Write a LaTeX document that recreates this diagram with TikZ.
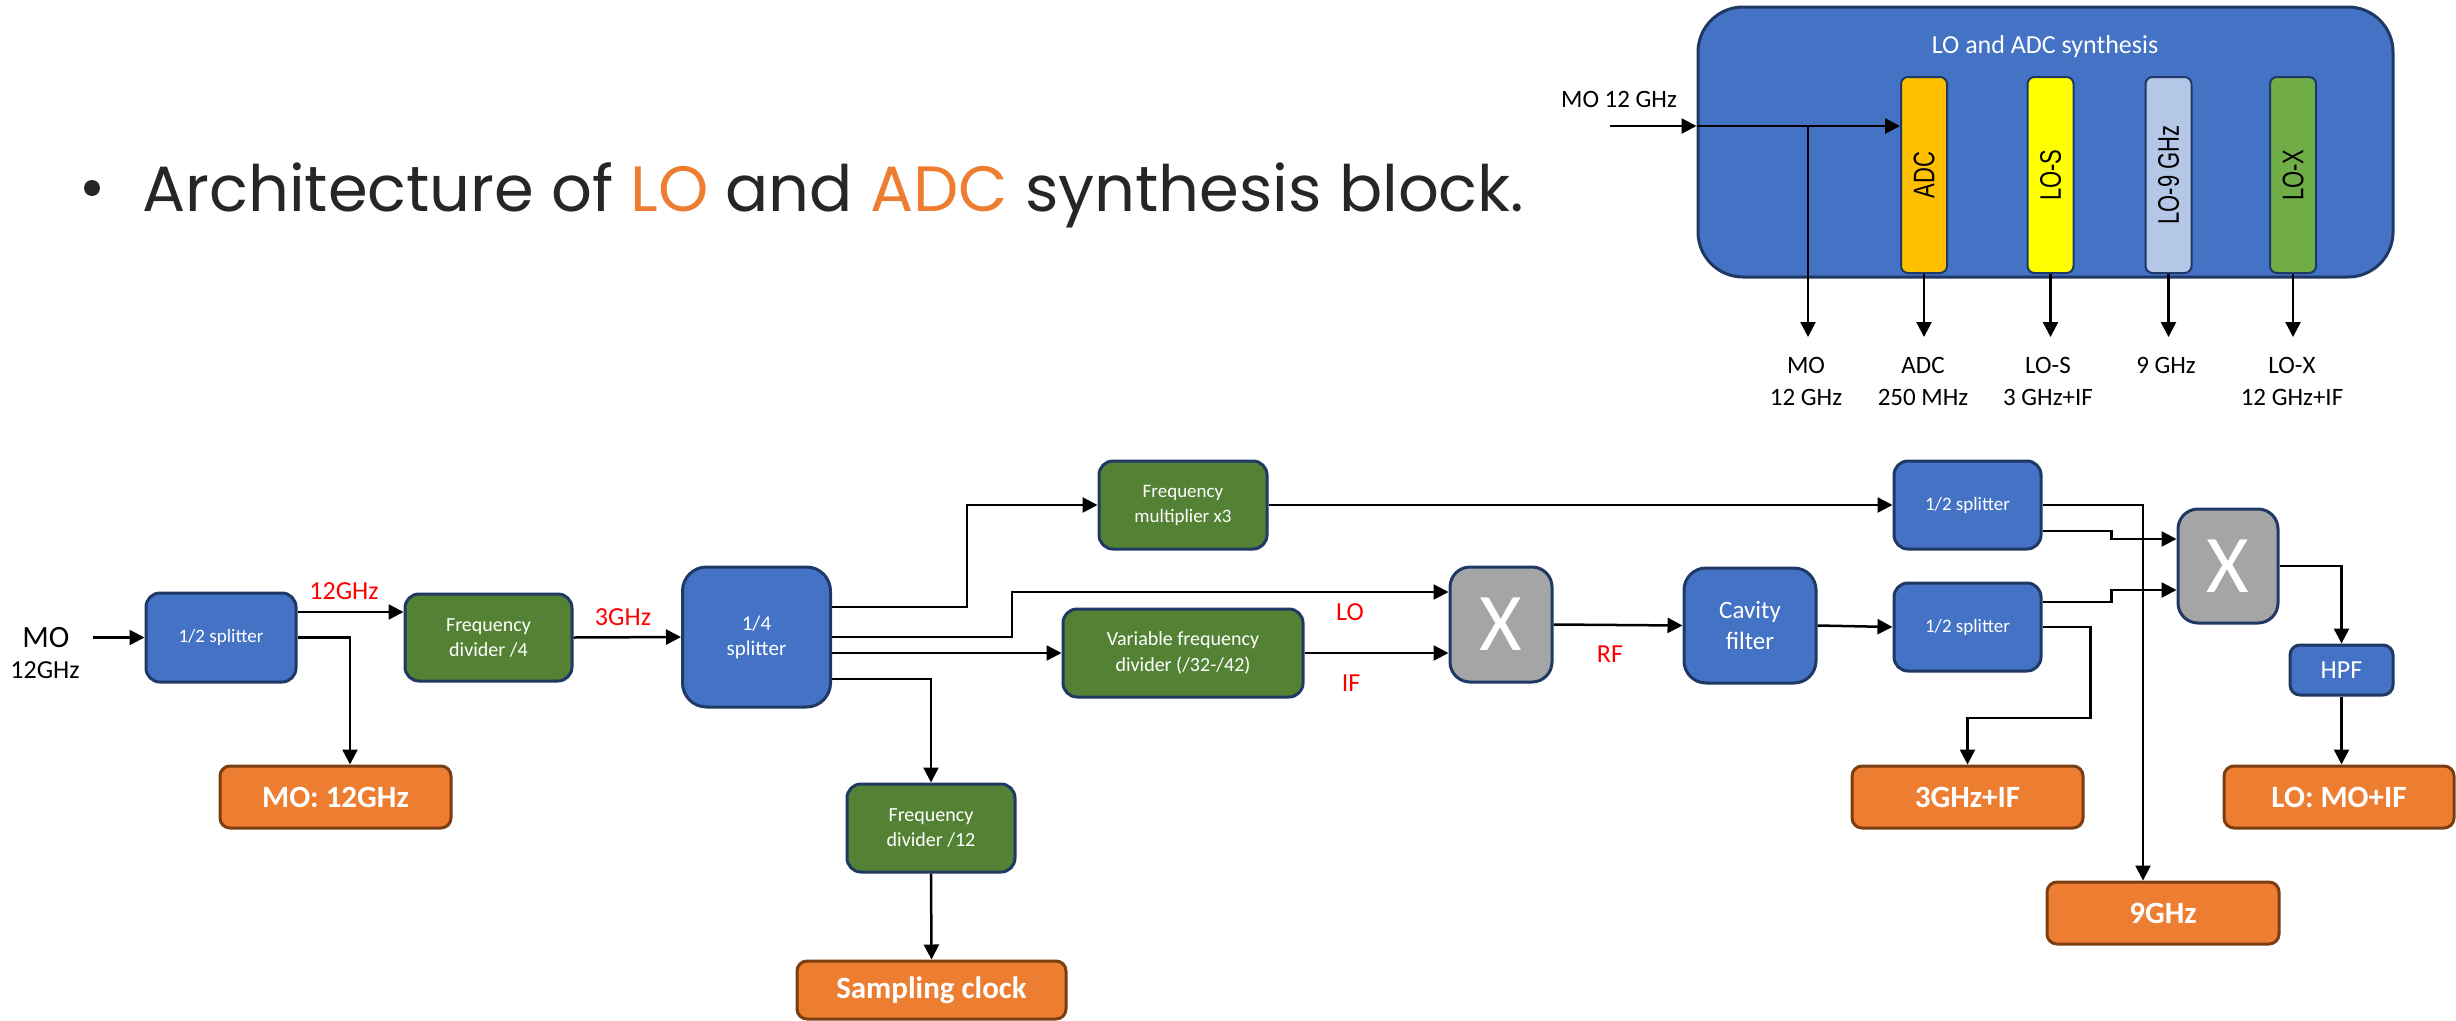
\documentclass[tikz,border=0pt]{standalone}
\usepackage{fontspec}
\setmainfont{Carlito}
\newfontfamily\titlefont{Poppins}
\newfontfamily\arialf{Liberation Sans}
\usetikzlibrary{arrows.meta,calc}
\definecolor{myblue}{HTML}{4472C4}
\definecolor{navy}{HTML}{1F3864}
\definecolor{mygreen}{HTML}{548235}
\definecolor{mygray}{HTML}{A5A5A5}
\definecolor{myorange}{HTML}{ED7D31}
\definecolor{mybrown}{HTML}{7A3E12}
\definecolor{adcc}{HTML}{FFC000}
\definecolor{losc}{HTML}{FFFF00}
\definecolor{lonc}{HTML}{B4C7E7}
\definecolor{loxc}{HTML}{70AD47}
\definecolor{txt}{HTML}{262626}
\newcommand\fsz[2]{\fontsize{#1}{#2}\selectfont}
\newcommand\barlab[1]{\scalebox{1}[1.35]{#1}}
\begin{document}
\begin{tikzpicture}[x=1pt,y=-1pt,
  base/.style={draw=navy, line width=3pt, rounded corners=14pt, align=center, text=white, inner sep=0pt},
  bluebox/.style={base, fill=myblue},
  greenbox/.style={base, fill=mygreen},
  mixbox/.style={base, fill=mygray, rounded corners=20pt, font=\fsz{82}{90}},
  outbox/.style={draw=mybrown, fill=myorange, line width=3pt, rounded corners=10pt, text=white, inner sep=0pt, font=\fsz{31}{36}\bfseries},
  bar/.style={draw=navy, line width=2pt, rounded corners=7pt, minimum width=46pt, minimum height=196pt, inner sep=0pt},
  bartext/.style={rotate=90, font=\arialf\fsz{22}{24}, inner sep=0pt},
  arr/.style={line width=2.5pt, -{Triangle[length=15pt,width=15pt]}},
  lab/.style={text=red, font=\fsz{26}{30}, inner sep=0pt},
  plain/.style={font=\fsz{25}{32}, align=center, inner sep=0pt},
]
\useasboundingbox (0,0) rectangle (2456,1020);

% ---------- title ----------
\fill[txt] (92,188) circle (8);
\node[anchor=base west, inner sep=0pt, text=txt, font=\titlefont\fsz{64}{70}] (title) at (142,211)
  {Architecture of \textcolor{myorange}{LO} and \textcolor{myorange}{ADC} synthesis block.};

% ---------- top synthesis block ----------
\node[draw=navy, fill=myblue, line width=3pt, rounded corners=45pt, minimum width=695pt, minimum height=270pt, inner sep=0pt] (big) at (2045.5,142) {};
\node[text=white, font=\fsz{26}{30}, inner sep=0pt] (bigt) at (2045,47) {LO and ADC synthesis};
\node[bar, fill=adcc] (adc) at (1924,175) {};
\node[bar, fill=losc] (los) at (2050.5,175) {};
\node[bar, fill=lonc] (lon) at (2168.5,175) {};
\node[bar, fill=loxc] (lox) at (2293,175) {};
\node[bartext] (adct) at (adc) {\barlab{ADC}};
\node[bartext] (lost) at (los) {\barlab{LO-S}};
\node[bartext] (lont) at (lon) {\barlab{LO-9 GHz}};
\node[bartext] (loxt) at (lox) {\barlab{LO-X}};
\node[plain] (mo12) at (1619,99) {MO 12 GHz};
\coordinate (topin) at (1610,126);
\coordinate (brk) at (1808,126);
\coordinate (yend) at (0,337);
\draw[arr] (topin) -- (big.west |- topin);
\draw[arr] (big.west |- topin) -- (adc.west |- topin);
\draw[arr] (brk) -- (brk |- yend);
\draw[arr] (adc.south) -- (adc.south |- yend);
\draw[arr] (los.south) -- (los.south |- yend);
\draw[arr] (lon.south) -- (lon.south |- yend);
\draw[arr] (lox.south) -- (lox.south |- yend);
\node[plain] (l1) at (1806,381) {MO\\12 GHz};
\node[plain] (l2) at (1923,381) {ADC\\250 MHz};
\node[plain] (l3) at (2048,381) {LO-S\\3 GHz+IF};
\node[plain] (l4) at (2166,365) {9 GHz};
\node[plain] (l5) at (2292,381) {LO-X\\12 GHz+IF};

% ---------- main chain ----------
\node[inner sep=0pt, font=\fsz{31}{34}] (moa) at (46,638) {MO};
\node[inner sep=0pt, font=\fsz{26}{30}] (mob) at (45,670) {12GHz};
\coordinate (moin) at (93,637.5);

\node[bluebox, minimum width=150pt, minimum height=89pt, font=\fsz{19}{24}] (sp1) at (221,637.5) {1/2 splitter};
\node[greenbox, minimum width=167pt, minimum height=87pt, font=\fsz{20}{25}] (fd4) at (488.5,637.5) {Frequency\\divider /4};
\node[bluebox, rounded corners=24pt, minimum width=148pt, minimum height=140pt, font=\fsz{21}{25}] (sp4) at (756.5,637) {1/4\\splitter};
\node[greenbox, minimum width=168pt, minimum height=88pt, font=\fsz{19}{25}] (fm3) at (1183,505) {Frequency\\multiplier x3};
\node[greenbox, minimum width=240pt, minimum height=88pt, font=\fsz{20}{26}] (vfd) at (1183,653) {Variable frequency\\divider (/32-/42)};
\node[mixbox, minimum width=102pt, minimum height=115pt] (mix1) at (1501,624.5) {X};
\node[bluebox, rounded corners=22pt, minimum width=132pt, minimum height=115pt, font=\fsz{25}{31}] (cav) at (1750,625.5) {Cavity\\filter};
\node[bluebox, minimum width=147pt, minimum height=88pt, font=\fsz{19}{24}] (spa) at (1967.5,505) {1/2 splitter};
\node[bluebox, minimum width=147pt, minimum height=88pt, font=\fsz{19}{24}] (spb) at (1967.5,627) {1/2 splitter};
\node[mixbox, minimum width=100pt, minimum height=114pt] (mix2) at (2228,566) {X};
\node[bluebox, rounded corners=10pt, minimum width=103pt, minimum height=50pt, font=\fsz{26}{30}] (hpf) at (2341.5,670) {HPF};
\node[greenbox, minimum width=168pt, minimum height=88pt, font=\fsz{20}{25}] (fd12) at (931,828) {Frequency\\divider /12};

\node[outbox, minimum width=231pt, minimum height=62pt] (moout) at (335.5,797) {MO: 12GHz};
\node[outbox, minimum width=269pt, minimum height=58pt] (samp) at (931.5,990) {Sampling clock};
\node[outbox, minimum width=231pt, minimum height=62pt] (ghz3) at (1967.5,797) {3GHz+IF};
\node[outbox, minimum width=232pt, minimum height=62pt] (ghz9) at (2163,913) {9GHz};
\node[outbox, minimum width=230pt, minimum height=62pt] (loout) at (2339,797) {LO: MO+IF};

% labels
\node[lab] (t12) at (344,591) {12GHz};
\node[lab] (t3) at (623,617) {3GHz};
\node[lab] (tlo) at (1350,612) {LO};
\node[lab] (tif) at (1351,683) {IF};
\node[lab] (trf) at (1610,654) {RF};

% connectors
\draw[arr] (moin) -- (sp1.west);
\draw[arr] ([yshift=25.5pt]sp1.east) -- ([yshift=25.5pt]fd4.west);
\draw[arr] (sp1.east) -| ([xshift=14.5pt]moout.north);
\draw[arr] (fd4.east) -- (sp4.west);
\draw[arr] ([yshift=30pt]sp4.east) -- ++(135,0) |- (fm3.west);
\draw[arr] (sp4.east) -- ++(180,0) |- ([yshift=32.5pt]mix1.west);
\draw[arr] ([yshift=-16pt]sp4.east) -- (vfd.west);
\draw[arr] (vfd.east) -- ([yshift=-28.5pt]mix1.west);
\draw[arr] ([yshift=-42pt]sp4.east) -| (fd12.north);
\draw[arr] (fd12.south) -- (samp.north);
\draw[arr] (fm3.east) -- (spa.west);
\draw[arr] (mix1.east) -- (cav.west);
\draw[arr] (cav.east) -- (spb.west);
\draw[arr] (spa.east) -| ([xshift=-20pt]ghz9.north);
\draw[arr] ([yshift=-26pt]spa.east) -- ++(69,0) |- ([yshift=27pt]mix2.west);
\draw[arr] ([yshift=25pt]spb.east) -- ++(69,0) |- ([yshift=-24pt]mix2.west);
\draw[arr] (spb.east) -- ++(48,0) -- ++(0,91) -| (ghz3.north);
\draw[arr] (mix2.east) -| (hpf.north);
\draw[arr] (hpf.south) -- (hpf.south |- loout.north);
\end{tikzpicture}
\end{document}
